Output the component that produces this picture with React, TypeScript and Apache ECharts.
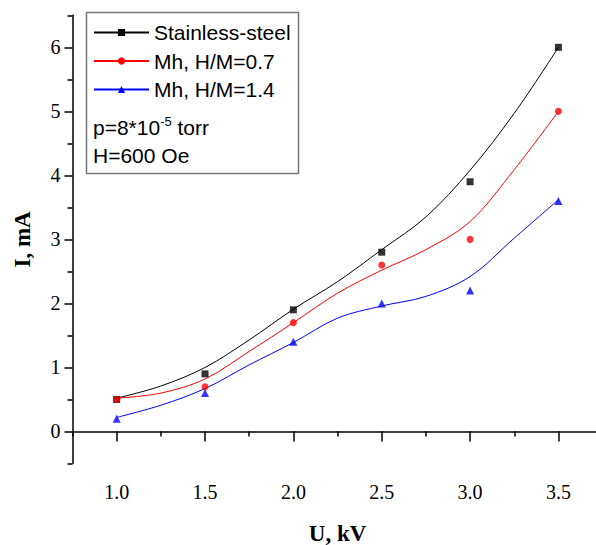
import React, { useEffect, useRef } from "react";
import * as echarts from "echarts";

// Measured points
const voltage = [1.0, 1.5, 2.0, 2.5, 3.0, 3.5];
const steelPts = [0.5, 0.9, 1.9, 2.8, 3.9, 6.0];
const mh07Pts = [0.5, 0.7, 1.7, 2.6, 3.0, 5.0];
const mh14Pts = [0.2, 0.6, 1.4, 2.0, 2.2, 3.6];

// Fitted curves
const curveU = [1.0, 1.25, 1.5, 1.75, 2.0, 2.25, 2.5, 2.75, 3.0, 3.25, 3.5];
const steelCurve = [0.52, 0.71, 1.0, 1.43, 1.91, 2.34, 2.84, 3.35, 4.08, 4.97, 6.0];
const mh07Curve = [0.52, 0.6, 0.82, 1.25, 1.7, 2.16, 2.52, 2.84, 3.28, 4.09, 5.0];
const mh14Curve = [0.22, 0.41, 0.67, 1.04, 1.39, 1.77, 1.96, 2.11, 2.42, 3.02, 3.62];

const seriesNames = ["Stainless-steel", "Mh, H/M=0.7", "Mh, H/M=1.4"];
const xMajorTicks = [1.0, 1.5, 2.0, 2.5, 3.0, 3.5];
const xMinorTicks = [0.75, 1.25, 1.75, 2.25, 2.75, 3.25, 3.75];
const yMajorTicks = [0, 1, 2, 3, 4, 5, 6];
const yMinorTicks = [-0.5, 0.5, 1.5, 2.5, 3.5, 4.5, 5.5, 6.5];

const serif = "'Liberation Serif', 'Times New Roman', serif";
const sans = "'Liberation Sans', Arial, sans-serif";

const pair = (xs: number[], ys: number[]) => xs.map((x, i) => [x, ys[i]]);

export default function App() {
  const ref = useRef<HTMLDivElement>(null);
  useEffect(() => {
    if (!ref.current) return;
    const chart = echarts.init(ref.current, null, { renderer: "svg" });
    const colors = ["#000000", "#ff0000", "#0000ff"];
    const symbols = ["rect", "circle", "triangle"];
    const sizes = [7, 7, 8];
    const curves = [steelCurve, mh07Curve, mh14Curve];
    const pts = [steelPts, mh07Pts, mh14Pts];
    const series: any[] = [];
    for (let i = 0; i < 3; i++) {
      series.push({
        name: seriesNames[i],
        type: "line",
        data: pair(curveU, curves[i]),
        smooth: 0.35,
        showSymbol: false,
        symbol: symbols[i],
        symbolSize: sizes[i],
        lineStyle: { color: colors[i], width: 1 },
        itemStyle: { color: colors[i] },
        z: 2,
      });
    }
    for (let i = 0; i < 3; i++) {
      series.push({
        name: seriesNames[i] + " data",
        type: "scatter",
        data: pair(voltage, pts[i]),
        symbol: symbols[i],
        symbolSize: sizes[i],
        itemStyle: { color: colors[i] },
        z: 3,
      });
    }
    chart.setOption({
      animation: false,
      backgroundColor: "#ffffff",
      grid: {
        left: 72.5,
        top: 15.3,
        bottom: 81.5,
        right: -6.6,
        containLabel: false,
        outerBoundsMode: "none",
      },
      xAxis: [
        {
          type: "value",
          position: "bottom",
          min: 0.75,
          max: 3.75,
          name: "U, kV",
          nameLocation: "middle",
          nameGap: 58,
          nameTextStyle: { fontFamily: serif, fontWeight: "bold", fontSize: 23, color: "#000" },
          axisLine: { show: true, lineStyle: { color: "#000", width: 1.5 } },
          axisTick: { show: true, customValues: xMajorTicks, length: 10, lineStyle: { color: "#000", width: 1.5 } },
          axisLabel: {
            customValues: xMajorTicks,
            formatter: (v: number) => v.toFixed(1),
            fontFamily: serif,
            fontSize: 20,
            color: "#000",
            margin: 18,
          },
          splitLine: { show: false },
        },
        {
          type: "value",
          position: "bottom",
          min: 0.75,
          max: 3.75,
          axisLine: { show: false },
          axisTick: { show: true, customValues: xMinorTicks, length: 5, lineStyle: { color: "#000", width: 1.5 } },
          axisLabel: { show: false },
          splitLine: { show: false },
        },
      ],
      yAxis: [
        {
          type: "value",
          position: "left",
          min: -0.5,
          max: 6.5,
          name: "I, mA",
          nameLocation: "middle",
          nameGap: 39,
          nameTextStyle: { fontFamily: serif, fontWeight: "bold", fontSize: 23, color: "#000" },
          axisLine: { show: true, lineStyle: { color: "#000", width: 1.5 } },
          axisTick: { show: true, customValues: yMajorTicks, length: 8, lineStyle: { color: "#000", width: 1.5 } },
          axisLabel: {
            customValues: yMajorTicks,
            formatter: (v: number) => String(v),
            fontFamily: serif,
            fontSize: 20,
            color: "#000",
            margin: 12,
          },
          splitLine: { show: false },
        },
        {
          type: "value",
          position: "left",
          min: -0.5,
          max: 6.5,
          axisLine: { show: false },
          axisTick: { show: true, customValues: yMinorTicks, length: 5, lineStyle: { color: "#000", width: 1.5 } },
          axisLabel: { show: false },
          splitLine: { show: false },
        },
      ],
      legend: {
        data: seriesNames,
        orient: "vertical",
        left: 93,
        top: 22,
        padding: 0,
        itemWidth: 55,
        itemHeight: 9,
        itemGap: 7.5,
        textStyle: { fontFamily: sans, fontSize: 21, color: "#000" },
        selectedMode: false,
      },
      graphic: [
        {
          type: "rect",
          shape: { x: 86.5, y: 12.5, width: 212, height: 161 },
          style: { fill: "none", stroke: "#777", lineWidth: 1.5 },
          z: 10,
        },
        {
          type: "text",
          x: 93,
          y: 127,
          style: {
            text: "{a|p=8*10}{s|-5}{a| torr}",
            verticalAlign: "middle",
            rich: {
              a: { fontFamily: sans, fontSize: 21, fill: "#000" },
              s: { fontFamily: sans, fontSize: 13, fill: "#000", verticalAlign: "top", padding: [0, 0, 12, 0] },
            },
          },
          z: 10,
        },
        {
          type: "text",
          x: 93,
          y: 155,
          style: {
            text: "H=600 Oe",
            fontFamily: sans,
            fontSize: 21,
            fill: "#000",
            verticalAlign: "middle",
          },
          z: 10,
        },
      ],
      series,
    });
    return () => chart.dispose();
  }, []);
  return (
    <div
      ref={ref}
      style={{ position: "fixed", left: 0, top: 0, width: 596, height: 545, background: "#fff" }}
    />
  );
}
